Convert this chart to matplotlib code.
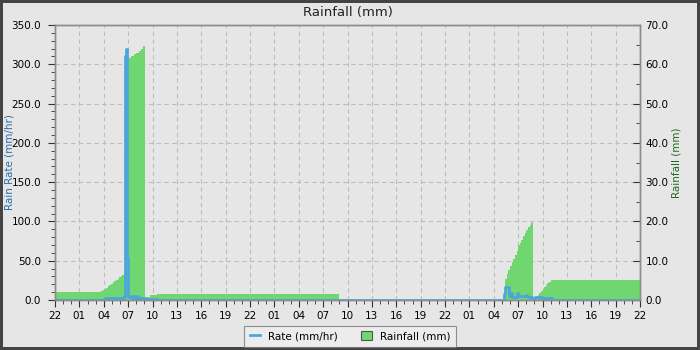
import matplotlib
matplotlib.use("Agg")
import matplotlib.pyplot as plt
from matplotlib.lines import Line2D
from matplotlib.patches import Patch
from matplotlib.ticker import MultipleLocator

# hours since 22:00 on the first day
tick_labels = ["22", "01", "04", "07", "10", "13", "16", "19",
               "22", "01", "04", "07", "10", "13", "16", "19",
               "22", "01", "04", "07", "10", "13", "16", "19", "22"]

rain_hours = [0.0, 5.7, 5.9, 6.1, 6.3, 6.5, 6.7, 6.9, 7.1, 7.3, 7.5, 7.7,
              7.9, 8.1, 8.3, 8.5, 8.75, 9.1, 9.4, 9.7, 10.0, 10.3, 10.6,
              10.85, 11.05, 11.15, 11.7, 12.55, 35.0,
              55.4, 55.6, 55.8, 56.0, 56.2, 56.4, 56.6, 56.8, 57.0, 57.2,
              57.4, 57.6, 57.8, 58.0, 58.2, 58.4, 58.55, 58.7,
              58.85, 59.2, 59.4, 59.6, 59.8, 60.0, 60.2, 60.4, 60.6, 60.8, 61.0, 72.0]
rain_mm = [2.0, 2.3, 2.5, 2.8, 3.1, 3.5, 3.9, 4.2, 4.5, 4.8, 5.1, 5.4,
           5.8, 6.1, 6.4, 6.9, 61.0, 61.5, 62.0, 62.5, 63.0, 63.5, 64.0,
           64.7, 0.0, 0.7, 1.2, 1.5, 0.0,
           5.4, 6.6, 7.6, 8.6, 9.6, 10.5, 11.5, 12.6, 14.0, 14.6,
           15.3, 16.2, 17.0, 17.8, 18.6, 19.2, 19.6, 19.9,
           0.0, 0.8, 1.3, 1.8, 2.3, 2.9, 3.4, 3.9, 4.3, 4.7, 5.0, 5.0]

rate_hours = [0.0, 6.1, 8.5, 8.62, 8.74, 8.86, 8.98, 9.3, 9.45, 9.7, 9.85,
              10.1, 10.25, 11.1, 12.5, 55.26, 55.38, 55.88, 56.12, 56.25,
              56.86, 56.98, 57.23, 57.97, 58.1, 58.7, 59.08, 59.94, 61.17, 72.0]
rate_mmhr = [0.3, 2.5, 5.5, 310.0, 320.0, 53.0, 3.5, 5.0, 3.0, 5.0, 3.0,
             4.5, 2.5, 1.5, 0.3, 7.6, 17.0, 5.5, 8.5, 4.2,
             8.5, 5.5, 4.5, 7.0, 4.0, 1.5, 4.0, 3.0, 0.3, 0.3]

BG = "#e6e6e6"
BLUE = "#4ca6dc"
GREEN = "#70d670"
SPINE = "#8c8c8c"

fig = plt.figure(figsize=(7, 3.5), dpi=100, facecolor=BG)
fig.patch.set_edgecolor("#444444")
fig.patch.set_linewidth(3)

ax = fig.add_axes([55 / 700, 50 / 350, 585 / 700, 275 / 350])
ax2 = ax.twinx()
ax2.set_zorder(0)
ax.set_zorder(1)
ax.patch.set_visible(False)
ax2.patch.set_visible(True)
ax2.patch.set_facecolor(BG)

# rainfall on the right axis, drawn behind
ax2.fill_between(rain_hours, rain_mm, 0, step="post", color=GREEN, linewidth=0)
ax2.set_ylim(0, 70)
ax2.yaxis.set_major_locator(MultipleLocator(10))
ax2.yaxis.set_minor_locator(MultipleLocator(5))
ax2.set_axisbelow(True)
ax2.xaxis.set_visible(True)
ax2.tick_params(axis="x", which="both", bottom=False, top=False,
                labelbottom=False, labeltop=False)
ax2.grid(True, which="major", color="#bdbdbd", linestyle=(0, (4, 3)), linewidth=0.8)
ax2.yaxis.set_major_formatter(lambda v, p: f"{v:.1f}")
ax2.tick_params(axis="y", which="major", direction="in", length=5, labelsize=7.5,
                pad=4, color="#333333")
ax2.tick_params(axis="y", which="minor", direction="in", length=3, color="#333333")
ax2.set_ylabel("Rainfall (mm)", color="#1e6b1e", fontsize=7.5)
ax2.yaxis.set_label_coords(1.0547, 0.5)

# rain rate on the left axis
ax.step(rate_hours, rate_mmhr, where="post", color=BLUE, linewidth=2)
ax.set_ylim(0, 350)
ax.set_xlim(0, 72)
ax.yaxis.set_major_locator(MultipleLocator(50))
ax.yaxis.set_minor_locator(MultipleLocator(10))
ax.yaxis.set_major_formatter(lambda v, p: f"{v:.1f}")
ax.set_xticks(range(0, 73, 3), tick_labels)
ax.xaxis.set_minor_locator(MultipleLocator(1))
ax.tick_params(axis="both", which="major", direction="out", length=5,
               labelsize=7.5, color="#333333")
ax.tick_params(axis="both", which="minor", direction="out", length=3, color="#333333")
ax.tick_params(axis="x", pad=3)
ax.tick_params(axis="y", pad=5)
ax.set_ylabel("Rain Rate (mm/hr)", color="#2a6fa8", fontsize=7.5)
ax.yaxis.set_label_coords(-0.070, 0.5)

for a in (ax, ax2):
    for s in a.spines.values():
        s.set_color(SPINE)
        s.set_linewidth(1)

fig.text(0.497, 0.965, "Rainfall (mm)", ha="center", va="center", fontsize=9.5,
         color="#222222")

handles = [Line2D([], [], color=BLUE, linewidth=2),
           Patch(facecolor=GREEN, edgecolor="#555555", linewidth=0.8)]
leg = fig.legend(handles, ["Rate (mm/hr)", "Rainfall (mm)"], loc="center",
                 bbox_to_anchor=(0.5, 0.039), ncol=2, fontsize=7.5,
                 frameon=True, fancybox=False, handlelength=1.0,
                 handleheight=0.9, columnspacing=2.2, borderpad=0.5)
leg.get_frame().set_facecolor("#eeeeee")
leg.get_frame().set_edgecolor("#777777")
leg.get_frame().set_linewidth(0.8)

fig.savefig("out.png", dpi=100, facecolor=BG)
